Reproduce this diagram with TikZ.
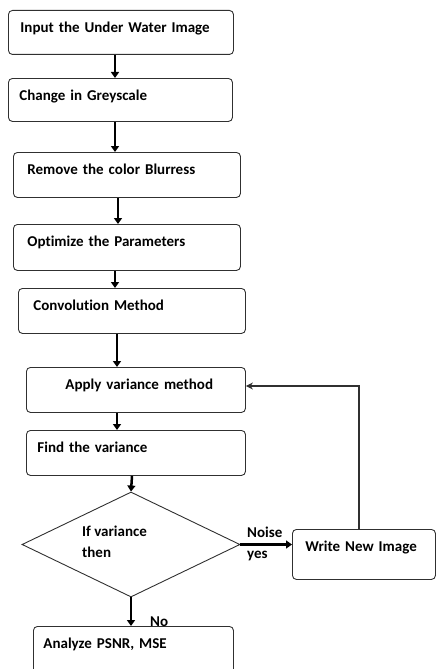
\documentclass[tikz,border=0pt]{standalone}
\usepackage{fontspec}
\setmainfont{Carlito}[Ligatures={NoCommon}]
\usetikzlibrary{shapes.geometric,arrows.meta,calc}
\definecolor{boxgray}{HTML}{303030}
\begin{document}
\begin{tikzpicture}[x=1pt,y=-1pt,
  box/.style={draw=boxgray, line width=0.9pt, rounded corners=4pt, anchor=north west,
    inner sep=0pt, align=left, text height=22.5pt, font=\bfseries\fontsize{15}{18}\selectfont},
  lbl/.style={inner sep=0pt, anchor=base west, font=\bfseries\fontsize{15}{18}\selectfont},
  arr/.style={line width=2.5pt, -{Triangle[length=6pt,width=8pt]}},
  fb/.style={line width=1.1pt, draw=boxgray, -{Stealth[length=7pt,width=7pt]}}]
\useasboundingbox (0,0) rectangle (436,669);
\begin{scope}
\clip (0,0) rectangle (436,669);
\node[box, text width=225pt, text depth=21.5pt] (b1) at (8,10) {\hspace*{12pt}Input the Under Water Image};
\node[box, text width=224pt, text depth=20.5pt] (b2) at (8,78) {\hspace*{11pt}Change in Greyscale};
\node[box, text width=227pt, text depth=22.5pt] (b3) at (13,152) {\hspace*{14pt}Remove the color Blurress};
\node[box, text width=227pt, text depth=23.5pt] (b4) at (13,224) {\hspace*{14pt}Optimize the Parameters};
\node[box, text width=227pt, text depth=22.5pt] (b5) at (18,288) {\hspace*{15pt}Convolution Method};
\node[box, text width=219pt, text depth=22.5pt] (b6) at (26,367) {\hspace*{39pt}Apply variance method};
\node[box, text width=219pt, text depth=22.5pt] (b7) at (26,430) {\hspace*{11pt}Find the variance};
\node[box, text width=143pt, text depth=27.5pt] (wr) at (292,529) {\hspace*{13pt}Write New Image};
\node[box, text width=200pt, text depth=37.5pt] (an) at (33,626) {\hspace*{10pt}Analyze PSNR, MSE};
\node[draw=boxgray, line width=0.9pt, diamond, shape aspect=2.08, inner sep=0pt,
  minimum width=218pt, minimum height=105pt] (dia) at (131,544.5) {};
\node[lbl, align=left] (dt) at (82,536) {If variance};
\node[lbl] (dt2) at (82,557) {then};
\node[lbl] (noise) at (247,537) {Noise};
\node[lbl] (yes) at (247,558) {yes};
\node[lbl] (no) at (150,626) {No};

\draw[arr] (b1.south -| 115,0) -- (b2.north -| 115,0);
\draw[arr] (b2.south -| 115,0) -- (b3.north -| 115,0);
\draw[arr] (b3.south -| 118,0) -- (b4.north -| 118,0);
\draw[arr] (b4.south -| 115,0) -- (b5.north -| 115,0);
\draw[arr] (b5.south -| 117,0) -- (b6.north -| 117,0);
\draw[arr] (b6.south -| 117,0) -- (b7.north -| 117,0);
\draw[arr] (b7.south -| 132,0) -- (dia.north);
\draw[arr] (dia.south) -- (an.north -| dia.south);
\draw[arr] (dia.east) -- (dia.east -| wr.west);
\coordinate (corner) at (359,386);
\draw[fb] (wr.north -| corner) -- (corner) -- (b6.east |- corner);
\end{scope}
\end{tikzpicture}
\end{document}
